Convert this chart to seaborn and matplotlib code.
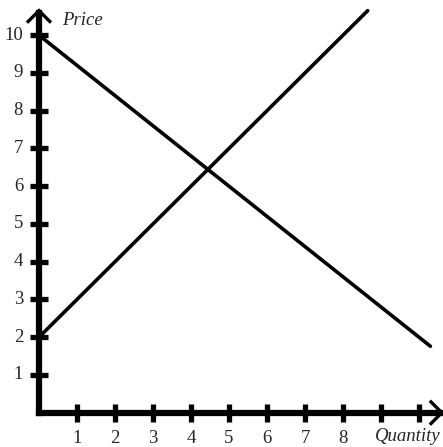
import matplotlib
matplotlib.use("Agg")
import matplotlib.pyplot as plt
import seaborn as sns
import pandas as pd
import numpy as np

# Data
supply_q = [0, 8.65]
supply_p = [2, 10.65]
demand_q = [0, 10.3]
demand_p = [10, 1.76]
x_ticks = [1, 2, 3, 4, 5, 6, 7, 8, 9, 10]
x_labels = ["1", "2", "3", "4", "5", "6", "7", "8", "", ""]
y_ticks = [1, 2, 3, 4, 5, 6, 7, 8, 9, 10]
y_labels = ["1", "2", "3", "4", "5", "6", "7", "8", "9", "10"]

sns.set_style("white")
plt.rcParams['font.family'] = ['Liberation Serif', 'DejaVu Serif']

fig = plt.figure(figsize=(4.43, 4.47), dpi=100)
ax = fig.add_axes([0, 0, 1, 1])
ax.set_xlim(-39 / 38.0, (443 - 39) / 38.0)
ax.set_ylim(-(447 - 412.7) / 37.75, 412.7 / 37.75)
ax.axis("off")

df = pd.concat([
    pd.DataFrame({"Q": supply_q, "P": supply_p, "curve": "Supply"}),
    pd.DataFrame({"Q": demand_q, "P": demand_p, "curve": "Demand"}),
])
sns.lineplot(data=df, x="Q", y="P", units="curve", estimator=None,
             color="black", lw=2.6, ax=ax, legend=False, sort=False)

# axes lines
ymax = 10.6
xmax = 10.55
ax.plot([0, 0], [0, ymax], color="black", lw=4.5, solid_capstyle="projecting")
ax.plot([0, xmax], [0, 0], color="black", lw=4.5, solid_capstyle="projecting")

# arrows (chevrons)
dx = 12 / 38.0
dy = 12 / 37.75
ax.plot([-dx, 0, dx], [ymax - dy + 0.05, ymax + 0.05, ymax - dy + 0.05],
        color="black", lw=2.4, solid_joinstyle="miter", solid_capstyle="butt")
ax.plot([xmax - dx + 0.05, xmax + 0.05, xmax - dx + 0.05], [dy, 0, -dy],
        color="black", lw=2.4, solid_joinstyle="miter", solid_capstyle="butt")

# ticks
ax.plot([0] * len(y_ticks), y_ticks, ls="none", marker="_", ms=12.5, mew=3.8, color="black")
ax.plot(x_ticks, [0] * len(x_ticks), ls="none", marker="|", ms=12.5, mew=3.8, color="black")

for t, l in zip(y_ticks, y_labels):
    ax.text(-16 / 38.0, t, l, ha="right", va="center", fontsize=13.5)
for t, l in zip(x_ticks, x_labels):
    if l:
        ax.text(t, -26 / 37.75, l, ha="center", va="center", fontsize=13.5)

ax.text(62 / 38.0 - 39 / 38.0, ymax + 0.05 - 10 / 37.75, "Price", ha="left",
        va="center", fontsize=13.5, style="italic")
ax.text((443 - 2 - 39) / 38.0, -24 / 37.75, "Quantity", ha="right",
        va="center", fontsize=13.5, style="italic")

fig.savefig("out.png", dpi=100)
